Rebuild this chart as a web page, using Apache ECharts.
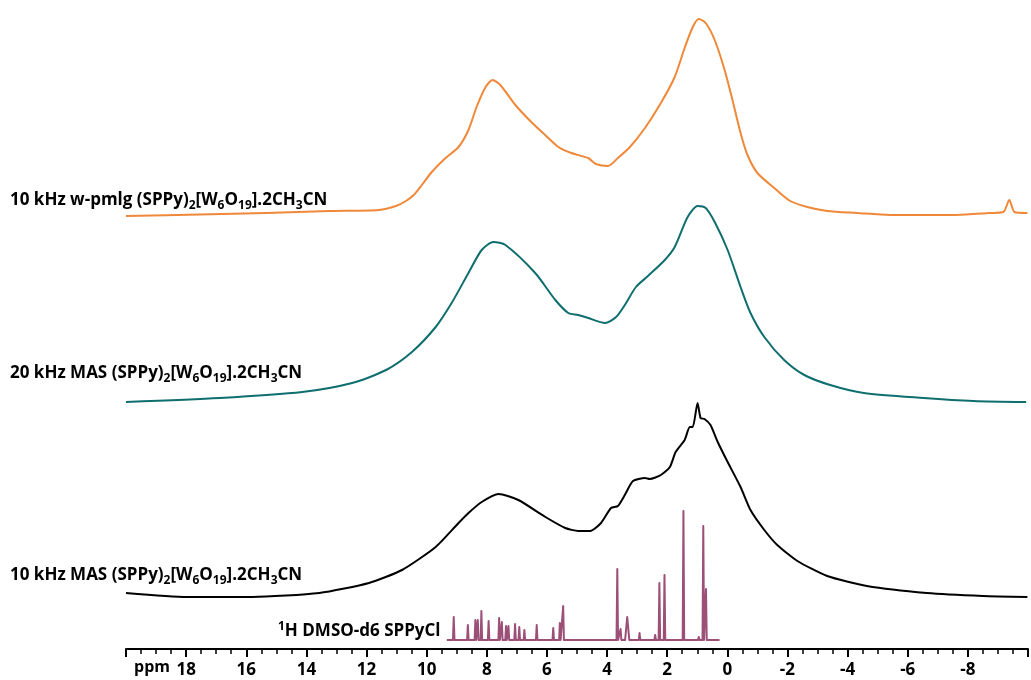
<!DOCTYPE html>
<html><head><meta charset="utf-8">
<script src="https://cdn.jsdelivr.net/npm/echarts@6/dist/echarts.min.js"></script>
<style>html,body{margin:0;padding:0;background:#fff}#c{width:1031px;height:680px}</style>
</head><body><div id="c"></div>
<script>
// chemical-shift axis (ppm), reversed
const axisMin = -10, axisMax = 20, axisStep = 2;
const shownTicks = [18,16,14,12,10,8,6,4,2,0,-2,-4,-6,-8];

// traces: [ppm, intensity]
const wpmlg10 = [[20.0,0],[17.55,1.5],[15.33,3],[13.24,5],[11.59,6],[11.02,10],[10.69,15],[10.43,21],[10.16,31],[9.83,44],[9.37,58],[8.94,69],[8.61,86],[8.34,109],[8.04,129],[7.81,136],[7.55,131],[7.05,111],[6.52,94],[6.06,81],[5.62,69],[5.19,63],[4.63,58],[4.37,52],[3.97,50],[3.64,58],[3.24,69],[2.74,88],[2.21,113],[1.75,139],[1.42,168],[1.15,189],[0.95,197],[0.72,193],[0.42,176],[0.09,146],[-0.17,116],[-0.44,83],[-0.67,61],[-1.0,43],[-1.56,28],[-2.09,15],[-2.66,9],[-3.32,5],[-4.31,3],[-5.41,1],[-6.53,1],[-7.62,1],[-8.72,3],[-9.18,4],[-9.38,16],[-9.55,4],[-9.98,3]];
const mas20 = [[20.0,1],[16.89,5],[14.14,11],[12.48,20],[11.35,33],[10.49,51],[9.70,76],[9.17,100],[8.61,130],[8.17,153],[7.78,161],[7.38,158],[6.39,130],[5.72,103],[5.29,90],[4.96,88],[4.63,85],[4.07,80],[3.70,86],[3.41,98],[3.04,116],[2.64,127],[2.08,143],[1.75,156],[1.32,186],[0.99,197],[0.72,195],[0.42,181],[-0.01,153],[-0.44,116],[-0.77,90],[-1.23,66],[-1.89,43],[-2.56,28],[-3.42,18],[-4.54,10],[-6.53,5],[-8.19,2],[-9.94,1]];
const mas10 = [[20.0,4],[17.98,0],[15.79,0],[13.57,4],[11.92,14],[10.82,27],[9.70,50],[8.94,74],[8.61,84],[8.17,95],[7.61,103],[6.95,97],[6.05,80],[5.39,69],[4.96,66],[4.56,66],[4.20,74],[3.87,89],[3.64,91],[3.41,102],[3.14,116],[2.74,119],[2.58,118],[2.21,122],[1.91,130],[1.72,145],[1.42,157],[1.25,170],[1.15,170],[0.99,194],[0.89,179],[0.76,178],[0.56,172],[0.32,155],[-0.01,135],[-0.44,110],[-0.77,87],[-1.23,67],[-1.66,52],[-2.33,36],[-3.32,21],[-4.64,11],[-6.63,4],[-8.5,1],[-9.98,0]];
// solution 1H spectrum: peak positions and heights
const dmsoPeaks = [[9.10,23],[8.63,15],[8.38,20],[8.30,20],[8.18,29],[7.94,19],[7.59,22],[7.50,18],[7.36,14],[7.28,14],[7.06,16],[6.92,13],[6.75,10],[6.34,15],[5.79,12],[5.57,17],[5.46,34],[3.66,71],[3.55,11],[3.33,23],[2.92,7],[2.40,5],[2.26,57],[2.09,65],[1.46,129],[0.95,3],[0.80,114],[0.71,51]];
const dmsoStart = 9.33, dmsoEnd = 0.26;

// vertical stacking offsets
const offW = 433, offM20 = 246, offM10 = 52, offD = 9;

const shift = (arr, o) => arr.map(p => [p[0], p[1] + o]);
const dmsoLine = [[dmsoStart, offD]];
dmsoPeaks.forEach(([p, h]) => {
  const hw = p === 3.33 ? 0.07 : 0.025;
  dmsoLine.push([p + hw, offD], [p, h + offD], [p - hw, offD]);
});
dmsoLine.push([dmsoEnd, offD]);

const FONT = '"Open Sans", "Noto Sans", sans-serif';
const rich = {
  b: {fontFamily: FONT, fontSize: 17, fontWeight: 'bold', color: '#111'},
  s: {fontFamily: FONT, fontSize: 12, fontWeight: 'bold', color: '#111', verticalAlign: 'bottom', padding: [0,0,-3,0]},
  u: {fontFamily: FONT, fontSize: 12, fontWeight: 'bold', color: '#111', verticalAlign: 'top', padding: [-2,0,0,0]}
};
const formula = '{b|(SPPy)}{s|2}{b|[W}{s|6}{b|O}{s|19}{b|].2CH}{s|3}{b|CN}';
const label = (txt, x, y) => ({type: 'text', x: x, y: y, style: {text: txt, rich: rich, verticalAlign: 'middle', align: 'left'}});

const chart = echarts.init(document.getElementById('c'), null, {renderer: 'canvas'});
const lineSeries = (data, color, smooth) => ({
  type: 'line', data: data, showSymbol: false, smooth: smooth,
  lineStyle: {color: color, width: 2, join: 'round'}, animation: false, z: 3
});
chart.setOption({
  animation: false,
  backgroundColor: '#fff',
  grid: {left: 126, right: 0, top: 0, bottom: 31, containLabel: false},
  xAxis: {
    type: 'value', inverse: true, min: axisMin, max: axisMax, interval: axisStep,
    axisLine: {show: true, onZero: false, lineStyle: {color: '#000', width: 2}},
    axisTick: {show: true, length: 8, lineStyle: {color: '#000', width: 2}},
    minorTick: {show: true, splitNumber: 4, length: 5, lineStyle: {color: '#000', width: 1.5}},
    splitLine: {show: false},
    axisLabel: {
      margin: 13, fontFamily: FONT, fontSize: 17, fontWeight: 'bold', color: '#000',
      formatter: v => shownTicks.indexOf(v) >= 0 ? String(v) : ''
    }
  },
  yAxis: {type: 'value', min: 0, max: 649, show: false},
  series: [
    lineSeries(shift(wpmlg10, offW), '#F0883A', 0.25),
    lineSeries(shift(mas20, offM20), '#0F6E6E', 0.25),
    lineSeries(shift(mas10, offM10), '#000000', 0.2),
    lineSeries(dmsoLine, '#9C5078', false)
  ],
  graphic: [
    label('{b|10 kHz w-pmlg }' + formula, 10, 200),
    label('{b|20 kHz MAS }' + formula, 10, 373),
    label('{b|10 kHz MAS }' + formula, 10, 575),
    label('{u|1}{b|H DMSO-d6 SPPyCl}', 278, 631),
    {type: 'text', x: 134, y: 667, style: {text: 'ppm', fontFamily: FONT, fontSize: 16, fontWeight: 'bold', fill: '#000', verticalAlign: 'middle'}}
  ]
});
</script></body></html>
